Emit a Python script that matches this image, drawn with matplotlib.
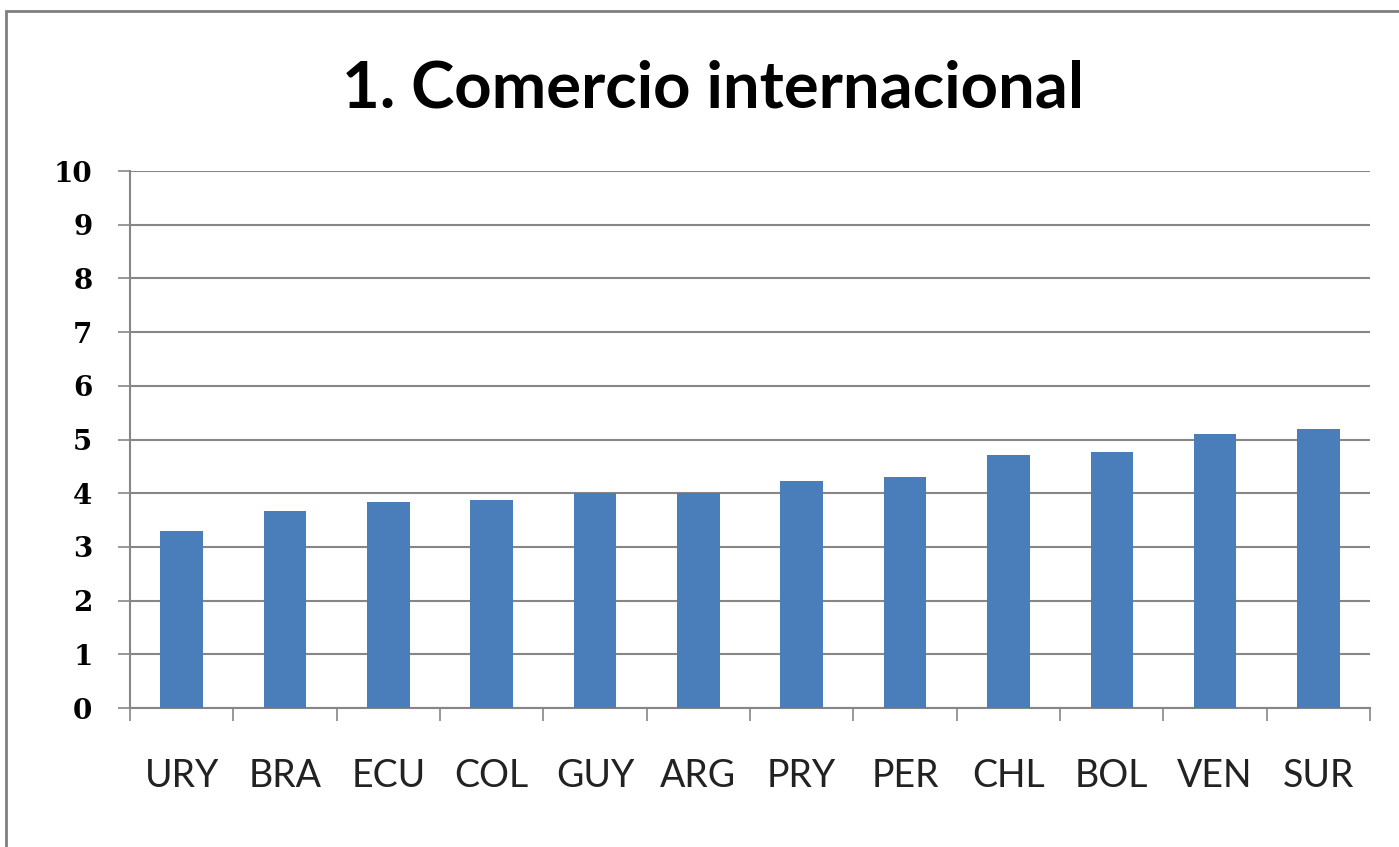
import numpy as np
from matplotlib import pyplot as plt
from matplotlib.patches import Rectangle

# values
countries = ['URY', 'BRA', 'ECU', 'COL', 'GUY', 'ARG', 'PRY', 'PER', 'CHL', 'BOL', 'VEN', 'SUR']
scores = [3.30, 3.66, 3.83, 3.88, 4.00, 4.00, 4.23, 4.31, 4.71, 4.76, 5.11, 5.19]
yticks = list(range(0, 11))

bar_color = '#4a7ebb'
line_color = '#868686'

fig = plt.figure(figsize=(13.99, 8.47), dpi=100)
ax = fig.add_axes([0.0929, 0.1641, 0.8864, 0.6340])

x = np.arange(len(countries))
ax.bar(x, scores, width=0.41, color=bar_color, zorder=3)

ax.set_xlim(-0.5, len(countries) - 0.5)
ax.set_ylim(0, 10)

# y axis
ax.set_yticks(yticks)
ax.set_yticklabels([str(t) for t in yticks], family='DejaVu Serif', fontweight='bold', fontsize=20)
ax.tick_params(axis='y', direction='out', length=9, width=1.2, color=line_color, pad=18)
ax.yaxis.grid(True, color=line_color, linewidth=1.5, zorder=0)

# x axis: labels at centres, tick marks between categories
ax.set_xticks(x)
ax.set_xticklabels(countries, family='Lato', fontsize=27, color='#222222')
ax.tick_params(axis='x', which='major', length=0, pad=36)
ax.set_xticks(np.arange(-0.5, len(countries)), minor=True)
ax.tick_params(axis='x', which='minor', direction='out', length=9, width=1.2, color=line_color)

for side in ['top', 'right']:
    ax.spines[side].set_visible(False)
for side in ['left', 'bottom']:
    ax.spines[side].set_color(line_color)
    ax.spines[side].set_linewidth(1.5)

fig.text(0.510, 0.895, '1. Comercio internacional', ha='center', va='center',
         family='Lato', fontweight='bold', fontsize=47)

# outer frame
fig.patches.append(Rectangle((0.004, -0.01), 1.1, 0.997, transform=fig.transFigure,
                             fill=False, edgecolor='#7f7f7f', linewidth=2))

fig.savefig('out.png', dpi=100)
